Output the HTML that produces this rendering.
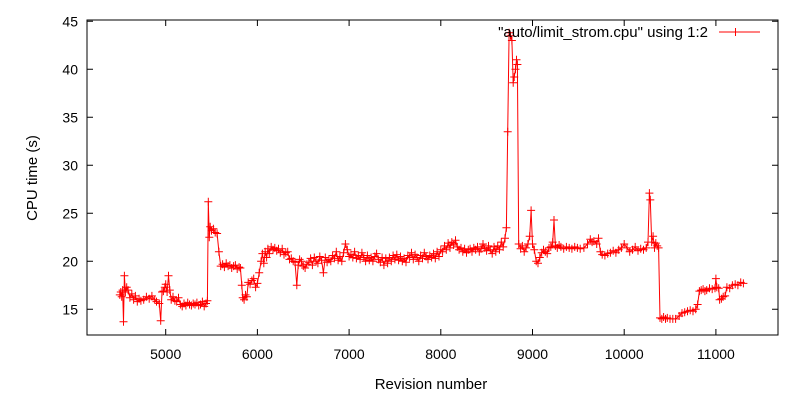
<!DOCTYPE html>
<html><head><meta charset="utf-8"><style>
body{margin:0;background:#fff}
svg{display:block;font-family:"Liberation Sans",sans-serif}
</style></head><body>
<svg id="chart" width="800" height="400" viewBox="0 0 800 400" xmlns="http://www.w3.org/2000/svg">
<rect x="0" y="0" width="800" height="400" fill="#fff"/>
<g id="axes"></g>
<g id="series"></g>
<rect x="87" y="20" width="691" height="315" fill="none" stroke="#000" stroke-width="1"/>
<text transform="translate(37,178) rotate(-90)" text-anchor="middle" font-size="15">CPU time (s)</text>
<text x="431" y="389" text-anchor="middle" font-size="15">Revision number</text>
<g>
<text x="708" y="37" text-anchor="end" font-size="15">"auto/limit_strom.cpu" using 1:2</text>
<line x1="719" y1="32" x2="760" y2="32" stroke="#f00" stroke-width="1"/>
<path d="M735.5,28v8M731.5,32h8" stroke="#f00" stroke-width="1"/>
</g>
</svg>
<script>
const xTicks=[5000,6000,7000,8000,9000,10000,11000];
const yTicks=[15,20,25,30,35,40,45];
const revisions=[4500,4510,4520,4530,4540,4550,4560,4575,4590,4610,4630,4650,4670,4690,4710,4730,4760,4790,4820,4850,4880,4900,4930,4945,4960,4975,4990,5000,5015,5030,5045,5060,5080,5100,5120,5140,5160,5180,5200,5220,5240,5260,5280,5300,5320,5340,5360,5380,5400,5420,5440,5455,5465,5475,5485,5500,5520,5540,5560,5580,5600,5620,5640,5660,5680,5700,5720,5740,5760,5780,5800,5815,5830,5840,5855,5870,5885,5900,5920,5940,5960,5980,6000,6020,6040,6055,6070,6085,6100,6115,6130,6150,6170,6190,6210,6230,6250,6270,6290,6310,6330,6350,6370,6390,6410,6430,6445,6460,6480,6500,6520,6540,6560,6580,6600,6620,6640,6660,6680,6700,6720,6740,6760,6780,6800,6820,6840,6860,6880,6900,6920,6940,6960,6980,7000,7020,7040,7060,7080,7100,7120,7140,7160,7180,7200,7220,7240,7260,7280,7300,7320,7340,7360,7380,7400,7420,7440,7460,7480,7500,7520,7540,7560,7580,7600,7620,7640,7660,7680,7700,7720,7740,7760,7780,7800,7820,7840,7860,7880,7900,7920,7940,7960,7980,8000,8020,8040,8060,8080,8100,8120,8140,8160,8180,8200,8220,8240,8260,8280,8300,8320,8340,8360,8380,8400,8420,8440,8460,8480,8500,8520,8540,8560,8580,8600,8620,8640,8660,8680,8700,8715,8730,8745,8760,8775,8790,8800,8815,8825,8835,8850,8870,8890,8910,8930,8950,8970,8985,9000,9020,9040,9060,9080,9100,9120,9140,9160,9180,9200,9220,9235,9250,9270,9290,9310,9340,9370,9400,9430,9460,9490,9520,9560,9600,9630,9650,9670,9700,9720,9740,9760,9790,9820,9850,9880,9910,9940,9970,10000,10030,10060,10090,10120,10150,10180,10210,10240,10260,10275,10285,10300,10315,10330,10345,10360,10375,10390,10410,10430,10450,10470,10500,10530,10560,10600,10630,10660,10690,10720,10750,10780,10800,10820,10840,10860,10880,10900,10930,10960,10990,11000,11010,11030,11040,11060,11080,11100,11120,11150,11180,11210,11240,11270,11300];
const cpuTimes=[16.5,16.8,16.3,17.0,13.7,18.5,16.8,17.3,17.0,16.2,16.6,16.0,16.4,15.8,16.1,15.9,16.0,16.3,16.1,16.4,16.0,15.8,15.6,13.8,16.8,16.9,17.3,17.6,16.8,18.5,17.0,16.0,16.3,15.9,15.8,16.2,15.5,15.3,15.6,15.4,15.7,15.5,15.4,15.6,15.5,15.7,15.4,15.5,15.8,15.3,15.6,15.9,26.2,22.5,23.6,23.2,23.4,23.0,22.9,21.0,19.5,19.7,19.4,19.8,19.5,19.6,19.3,19.5,19.6,19.2,19.4,19.3,17.5,16.2,16.0,16.5,16.3,17.8,17.6,18.0,18.2,17.3,17.7,18.8,20.0,20.8,19.8,21.0,20.4,21.3,20.8,21.5,21.2,21.4,21.1,21.3,20.9,21.3,20.7,20.9,21.0,20.2,20.3,20.0,19.9,17.5,19.6,20.2,20.0,19.5,19.3,19.7,19.9,20.3,19.6,20.4,20.0,19.8,20.5,20.1,18.8,20.4,19.9,20.2,20.0,20.6,20.3,21.0,20.1,20.5,20.0,20.9,21.8,21.2,20.5,20.7,20.4,21.0,20.3,20.6,20.2,20.9,20.4,20.0,20.6,20.1,20.4,20.0,20.5,20.8,20.2,19.9,20.4,19.6,20.3,19.8,20.4,20.0,20.6,20.2,20.7,20.1,20.5,20.0,20.3,19.9,20.6,20.4,20.9,20.2,20.7,20.4,20.0,20.6,20.3,20.9,20.5,20.2,20.6,20.4,20.8,20.3,21.0,20.5,21.2,21.0,21.6,21.2,21.9,21.4,22.0,21.7,22.2,21.5,21.2,21.4,21.0,21.3,20.9,21.2,21.3,21.0,21.4,21.2,21.5,21.0,21.3,21.8,21.4,21.1,21.6,21.2,20.8,21.5,21.0,21.6,21.2,22.0,21.5,22.4,23.5,33.5,43.8,43.5,43.0,38.6,39.2,40.0,41.0,40.5,21.8,21.3,21.6,21.0,21.4,21.8,22.6,25.3,21.8,21.2,20.0,19.8,20.4,20.9,21.2,21.0,20.8,21.4,21.5,22.0,24.3,21.6,21.4,21.7,21.5,21.3,21.5,21.4,21.3,21.5,21.4,21.3,21.4,21.8,22.3,22.0,22.1,21.8,22.4,21.0,20.7,20.6,20.8,20.9,21.1,20.9,21.2,21.4,21.8,21.4,21.0,21.2,21.5,21.1,21.3,21.2,21.4,22.0,27.1,26.4,22.0,22.6,21.4,21.9,21.6,21.4,14.1,14.0,14.2,14.0,14.1,14.0,14.0,14.0,14.3,14.6,14.7,14.8,14.9,14.8,15.0,15.5,16.9,17.0,17.1,16.9,17.0,17.2,17.1,17.2,18.2,17.3,17.2,16.0,16.1,16.3,16.4,17.3,17.2,17.5,17.6,17.5,17.8,17.7];

const NS="http://www.w3.org/2000/svg";
function xScale(v){return 165.7+(v-5000)*0.0917;}
function yScale(v){return 309.3-(v-15)*9.6;}
const axes=document.getElementById('axes');
const series=document.getElementById('series');
function mk(tag,attrs,parent){const e=document.createElementNS(NS,tag);for(const k in attrs)e.setAttribute(k,attrs[k]);parent.appendChild(e);return e;}
xTicks.forEach(t=>{
  const x=xScale(t);
  const tk=mk('path',{d:`M${x},335v-6M${x},20v6`,stroke:'#000','stroke-width':1},axes);
  
  
  const lb=mk('text',{x:x,y:359,'text-anchor':'middle','font-size':14},axes);
  
  
  lb.textContent=t;
});
yTicks.forEach(t=>{
  const y=yScale(t);
  const tk=mk('path',{d:`M87,${y}h6M778,${y}h-6`,stroke:'#000','stroke-width':1},axes);
  
  
  const lb=mk('text',{x:78,y:y+5,'text-anchor':'end','font-size':14},axes);
  
  
  lb.textContent=t;
});
let d='',pd='';
revisions.forEach((r,i)=>{
  const x=xScale(r),y=yScale(cpuTimes[i]);
  d+=(i?'L':'M')+x.toFixed(1)+','+y.toFixed(1);
  pd+=`M${(x-4).toFixed(1)},${y.toFixed(1)}h8M${x.toFixed(1)},${(y-4).toFixed(1)}v8`;
});
const line=mk('path',{d:d,fill:'none',stroke:'#f00','stroke-width':1},series);


const pts=mk('path',{d:pd,fill:'none',stroke:'#f00','stroke-width':1},series);


</script>
</body></html>
